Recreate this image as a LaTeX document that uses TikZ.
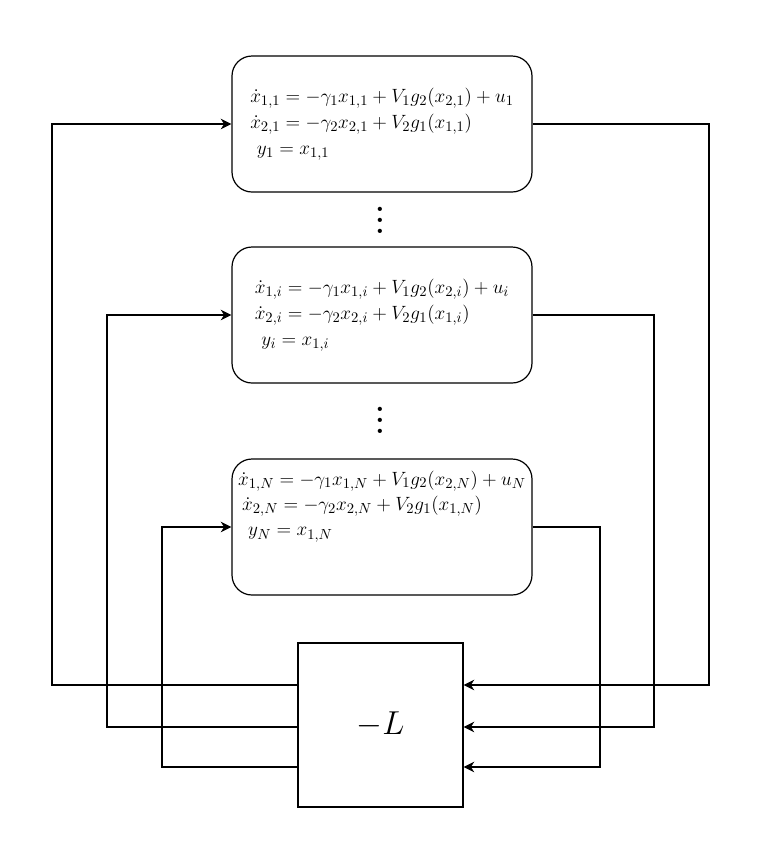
\documentclass[tikz,border=0pt]{standalone}
\usepackage{amsmath}
\usepackage{amssymb}
\usetikzlibrary{calc, positioning, arrows.meta}

\newcommand{\tallvdots}{\vbox{\baselineskip=8.25pt\lineskiplimit=0pt\hbox{.}\hbox{.}\hbox{.}}}

\begin{document}
\begin{tikzpicture}[x=0.75pt, y=-0.75pt,
        blk/.style={draw, line width=0.9pt, rounded corners=15pt, minimum width=225pt, minimum height=102pt, align=left, font=\fontsize{15.6}{19.5}\selectfont},
        eqn/.style={align=left, inner sep=2pt, font=\fontsize{15.6}{19}\selectfont},
        gain/.style={draw, line width=0.9pt, minimum width=123.75pt, minimum height=123pt, font=\fontsize{28.5}{32}\selectfont},
        dts/.style={inner sep=0pt, font=\fontsize{22}{26}\bfseries},
        fb/.style={-{Stealth[length=8pt, width=8pt, inset=2.5pt]}, line width=0.9pt}]
        \useasboundingbox (0,0) rectangle (764,858);

        \node[blk] (s1) at (382,124) {$\dot{x}_{1,1} = -\gamma_1 x_{1,1} + V_1 g_2(x_{2,1}) + u_1$\\$\dot{x}_{2,1} = -\gamma_2 x_{2,1} + V_2 g_1(x_{1,1})$\\\hspace{5pt}$y_1 = x_{1,1}$};
        \node[blk] (s2) at (382,315) {$\dot{x}_{1,i} = -\gamma_1 x_{1,i} + V_1 g_2(x_{2,i}) + u_i$\\$\dot{x}_{2,i} = -\gamma_2 x_{2,i} + V_2 g_1(x_{1,i})$\\\hspace{5pt}$y_i = x_{1,i}$};
        \node[blk] (s3) at (382,527) {};
        \node[eqn, anchor=north, yshift=-7pt] (e3) at (s3.north) {$\dot{x}_{1,N} = -\gamma_1 x_{1,N} + V_1 g_2(x_{2,N}) + u_N$\\\hspace{3pt}$\dot{x}_{2,N} = -\gamma_2 x_{2,N} + V_2 g_1(x_{1,N})$\\\hspace{7.5pt}$y_N = x_{1,N}$};

        \node[dts] (v1) at (380,220) {\tallvdots};
        \node[dts] (v2) at (380,420) {\tallvdots};

        \node[gain] (L) at (380.5,725) {$-L$};

        % corner points of the feedback loops
        \coordinate (a1) at (52,685);
        \coordinate (a2) at (107,727);
        \coordinate (a3) at (162,767);
        \coordinate (b1) at (709,685);
        \coordinate (b2) at (654,727);
        \coordinate (b3) at (600,767);

        \draw[fb] (L.west |- a1) -- (a1) |- (s1.west);
        \draw[fb] (L.west |- a2) -- (a2) |- (s2.west);
        \draw[fb] (L.west |- a3) -- (a3) |- (s3.west);
        \draw[fb] (s1.east) -| (b1) -- (L.east |- b1);
        \draw[fb] (s2.east) -| (b2) -- (L.east |- b2);
        \draw[fb] (s3.east) -| (b3) -- (L.east |- b3);
    \end{tikzpicture}
\end{document}
